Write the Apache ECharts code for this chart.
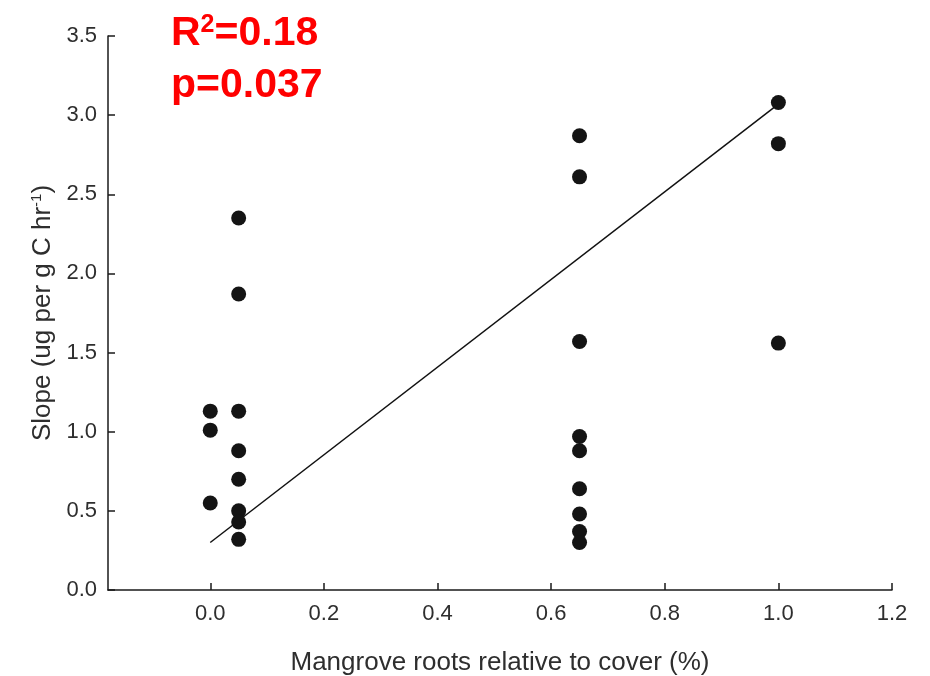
<!DOCTYPE html>
<html>
<head>
<meta charset="utf-8">
<script src="https://cdn.jsdelivr.net/npm/echarts@6/dist/echarts.min.js"></script>
<style>
  html, body { margin: 0; padding: 0; background: #fff; }
  #chart { width: 930px; height: 676px; }
</style>
</head>
<body>
<div id="chart"></div>
<script>
// point data
const rootCover = [
  0, 0, 0,
  0.05, 0.05, 0.05, 0.05, 0.05, 0.05, 0.05, 0.05,
  0.65, 0.65, 0.65, 0.65, 0.65, 0.65, 0.65, 0.65, 0.65,
  1.0, 1.0, 1.0
];
const slopeVals = [
  1.13, 1.01, 0.55,
  2.35, 1.87, 1.13, 0.88, 0.70, 0.50, 0.43, 0.32,
  2.87, 2.61, 1.57, 0.97, 0.88, 0.64, 0.48, 0.37, 0.30,
  3.08, 2.82, 1.56
];
// regression line ends
const fitX = [0, 1.0];
const fitY = [0.30, 3.07];
// tick labels on x
const xTicks = [0, 0.2, 0.4, 0.6, 0.8, 1.0, 1.2];

const chart = echarts.init(document.getElementById('chart'));
const axisColor = '#1a1a1a';
const labelColor = '#2e2e2e';
const font = 'Liberation Sans, Arial, sans-serif';

chart.setOption({
  backgroundColor: '#fff',
  animation: false,
  grid: { left: 108, right: 38, top: 36, bottom: 86, containLabel: false, outerBoundsMode: 'none' },
  xAxis: {
    type: 'value',
    min: -0.18,
    max: 1.2,
    splitLine: { show: false },
    axisLine: { onZero: false, lineStyle: { color: axisColor, width: 1.5 } },
    axisTick: { inside: true, length: 7, customValues: xTicks, lineStyle: { color: axisColor, width: 1.5 } },
    axisLabel: {
      customValues: xTicks,
      margin: 13,
      color: labelColor,
      fontSize: 22,
      fontFamily: font,
      formatter: v => v.toFixed(1)
    },
    name: 'Mangrove roots relative to cover (%)',
    nameLocation: 'middle',
    nameGap: 60,
    nameTextStyle: { color: labelColor, fontSize: 26, fontFamily: font }
  },
  yAxis: {
    type: 'value',
    min: 0,
    max: 3.5,
    interval: 0.5,
    splitLine: { show: false },
    axisLine: { show: true, onZero: false, lineStyle: { color: axisColor, width: 1.5 } },
    axisTick: { show: true, inside: true, length: 7, lineStyle: { color: axisColor, width: 1.5 } },
    axisLabel: {
      margin: 11,
      color: labelColor,
      fontSize: 22,
      fontFamily: font,
      formatter: v => v.toFixed(1)
    },
    name: '{t|Slope (ug per g C hr}{s|-1}{t|)}',
    nameLocation: 'middle',
    nameGap: 51,
    nameTextStyle: {
      color: labelColor,
      fontFamily: font,
      rich: {
        t: { fontSize: 26, color: labelColor, fontFamily: font },
        s: { fontSize: 15, color: labelColor, fontFamily: font, verticalAlign: 'top', padding: [0, 0, 10, 0] }
      }
    }
  },
  graphic: [
    {
      type: 'text',
      left: 171,
      top: 13,
      style: {
        text: '{a|R}{b|2}{a|=0.18}',
        rich: {
          a: { fontSize: 41, fontWeight: 'bold', fill: '#ff0000', fontFamily: font },
          b: { fontSize: 25, fontWeight: 'bold', fill: '#ff0000', fontFamily: font, verticalAlign: 'top', padding: [0, 0, 16, 0] }
        }
      }
    },
    {
      type: 'text',
      left: 171,
      top: 65,
      style: {
        text: 'p=0.037',
        fontSize: 41,
        fontWeight: 'bold',
        fill: '#ff0000',
        fontFamily: font
      }
    }
  ],
  series: [
    {
      type: 'line',
      data: fitX.map((x, i) => [x, fitY[i]]),
      showSymbol: false,
      lineStyle: { color: '#111', width: 1.5 },
      z: 2
    },
    {
      type: 'scatter',
      data: rootCover.map((x, i) => [x, slopeVals[i]]),
      symbol: 'circle',
      symbolSize: 15,
      itemStyle: { color: '#141414', opacity: 1 },
      z: 3
    }
  ]
});
</script>
</body>
</html>
